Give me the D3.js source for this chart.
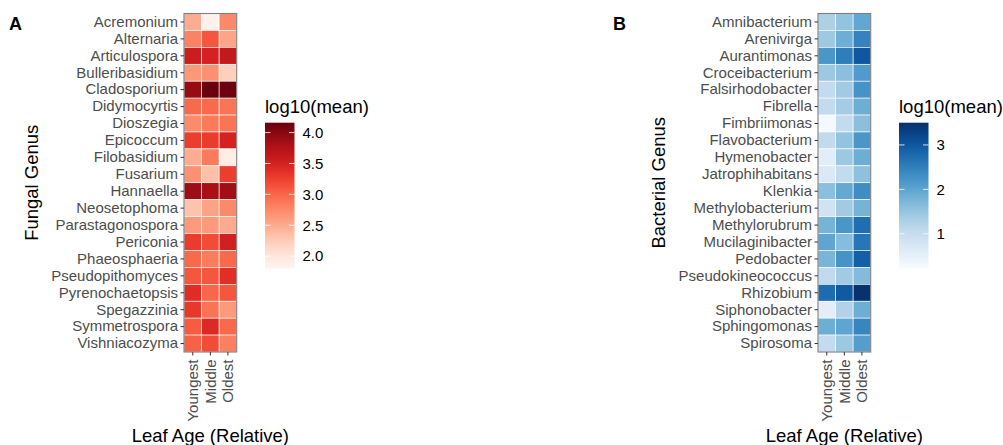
<!DOCTYPE html>
<html>
<head>
<meta charset="utf-8">
<script src="https://cdn.jsdelivr.net/npm/d3@7"></script>
<style>
  body { margin: 0; background: #fff; }
  svg { display: block; font-family: "Liberation Sans", Arial, Helvetica, sans-serif; }
</style>
</head>
<body>
<div id="chart"></div>
<script>
// Leaf age categories (x axis)
const ages = ["Youngest", "Middle", "Oldest"];

// Panel A: fungal genera and log10(mean) per age [Youngest, Middle, Oldest]
const fungalGenera = [
  "Acremonium", "Alternaria", "Articulospora", "Bulleribasidium", "Cladosporium",
  "Didymocyrtis", "Dioszegia", "Epicoccum", "Filobasidium", "Fusarium",
  "Hannaella", "Neosetophoma", "Parastagonospora", "Periconia", "Phaeosphaeria",
  "Pseudopithomyces", "Pyrenochaetopsis", "Spegazzinia", "Symmetrospora", "Vishniacozyma"
];
const fungalValues = [
  [2.50, 1.85, 2.75], [2.80, 3.10, 2.55], [3.57, 3.50, 3.62], [2.65, 2.70, 2.22],
  [3.92, 4.15, 4.13], [2.98, 2.97, 2.90], [2.74, 2.86, 2.90], [3.27, 3.29, 3.50],
  [2.50, 2.86, 1.90], [2.70, 2.34, 3.27], [3.88, 3.82, 3.86], [2.32, 2.56, 2.75],
  [2.63, 2.63, 2.51], [3.29, 3.17, 3.53], [2.98, 2.84, 2.98], [3.10, 3.10, 3.38],
  [3.40, 3.00, 3.10], [3.31, 2.91, 2.63], [3.07, 3.43, 2.98], [3.03, 3.17, 2.82]
];
const fungalLimits = [1.80, 4.16];
const fungalTicks = [2.0, 2.5, 3.0, 3.5, 4.0];

// Panel B: bacterial genera and log10(mean) per age
const bacterialGenera = [
  "Amnibacterium", "Arenivirga", "Aurantimonas", "Croceibacterium", "Falsirhodobacter",
  "Fibrella", "Fimbriimonas", "Flavobacterium", "Hymenobacter", "Jatrophihabitans",
  "Klenkia", "Methylobacterium", "Methylorubrum", "Mucilaginibacter", "Pedobacter",
  "Pseudokineococcus", "Rhizobium", "Siphonobacter", "Sphingomonas", "Spirosoma"
];
const bacterialValues = [
  [1.30, 1.53, 1.96], [1.43, 1.86, 2.45], [2.20, 2.52, 3.00], [1.45, 1.60, 2.13],
  [1.04, 1.40, 2.25], [1.04, 1.37, 1.86], [0.28, 1.04, 1.60], [1.07, 1.53, 2.20],
  [0.58, 1.45, 1.86], [0.68, 1.04, 1.57], [1.60, 1.93, 2.32], [0.85, 1.40, 1.79],
  [1.79, 2.20, 2.72], [1.99, 1.63, 2.61], [1.76, 2.25, 2.90], [1.07, 1.40, 1.66],
  [2.74, 2.98, 3.48], [0.55, 1.24, 1.86], [1.86, 1.99, 2.42], [1.04, 1.45, 2.09]
];
const bacterialLimits = [0.22, 3.50];
const bacterialTicks = [1, 2, 3];

const width = 1003, height = 445;
const svg = d3.select("#chart").append("svg").attr("width", width).attr("height", height);

const defs = svg.append("defs");

function drawPanel(opts) {
  const { letter, letterX, left, genera, values, limits, ticks, interp, yTitle, yTitleX, legendX, gradId, tickFmt } = opts;
  const top = 13.5, bottom = 352, pw = 52.7;

  const x = d3.scaleBand().domain(ages).range([left, left + pw]);
  const y = d3.scaleBand().domain(genera).range([top, bottom]);
  const color = d3.scaleSequential(interp).domain(limits);

  const g = svg.append("g");

  // tiles
  const cells = [];
  genera.forEach((gn, i) => ages.forEach((a, j) => cells.push({ genus: gn, age: a, v: values[i][j] })));
  g.selectAll("rect.tile").data(cells).join("rect")
    .attr("class", "tile")
    .attr("x", d => x(d.age)).attr("y", d => y(d.genus))
    .attr("width", x.bandwidth()).attr("height", y.bandwidth())
    .attr("fill", d => color(d.v))
    .attr("stroke", "#fff").attr("stroke-width", 0.6);

  // panel border
  g.append("rect").attr("x", left).attr("y", top).attr("width", pw).attr("height", bottom - top)
    .attr("fill", "none").attr("stroke", "#7f7f7f").attr("stroke-width", 1.1);

  // y axis
  g.append("g").attr("transform", `translate(${left},0)`)
    .call(d3.axisLeft(y).tickSize(3.5).tickPadding(2.5))
    .call(a => a.select(".domain").remove())
    .call(a => a.selectAll("line").attr("stroke", "#333").attr("stroke-width", 1))
    .call(a => a.selectAll("text").attr("fill", "#4d4d4d").style("font-size", "15px"));

  // x axis
  g.append("g").attr("transform", `translate(0,${bottom})`)
    .call(d3.axisBottom(x).tickSize(3.5).tickPadding(2.5))
    .call(a => a.select(".domain").remove())
    .call(a => a.selectAll("line").attr("stroke", "#333").attr("stroke-width", 1))
    .call(a => a.selectAll("text")
      .attr("fill", "#4d4d4d").style("font-size", "15px")
      .attr("text-anchor", "end").attr("dy", "0.35em")
      .attr("transform", "translate(0,7.5) rotate(-90)").attr("x", 0).attr("y", 0));

  // axis titles
  g.append("text").attr("x", left + pw / 2).attr("y", 441.5).attr("text-anchor", "middle")
    .style("font-size", "18.5px").attr("fill", "#000").text("Leaf Age (Relative)");
  g.append("text").attr("transform", `translate(${yTitleX},${(top + bottom) / 2}) rotate(-90)`)
    .attr("text-anchor", "middle").style("font-size", "18.5px").attr("fill", "#000").text(yTitle);

  // panel letter
  g.append("text").attr("x", letterX).attr("y", 29.5).style("font-size", "18px")
    .attr("font-weight", "bold").attr("fill", "#000").text(letter);

  // legend
  const lTop = 122.7, lBottom = 268.5, lw = 29.5;
  const ly = d3.scaleLinear().domain(limits).range([lBottom, lTop]);
  const grad = defs.append("linearGradient").attr("id", gradId)
    .attr("x1", 0).attr("y1", 1).attr("x2", 0).attr("y2", 0);
  d3.range(0, 1.0001, 0.05).forEach(t => {
    grad.append("stop").attr("offset", t)
      .attr("stop-color", color(limits[0] + t * (limits[1] - limits[0])));
  });
  g.append("text").attr("x", legendX).attr("y", 112.5).style("font-size", "18.5px")
    .attr("fill", "#000").text("log10(mean)");
  g.append("rect").attr("x", legendX).attr("y", lTop).attr("width", lw).attr("height", lBottom - lTop)
    .attr("fill", `url(#${gradId})`);
  const lt = g.append("g");
  lt.selectAll("line.l").data(ticks).join("line").attr("class", "l")
    .attr("x1", legendX).attr("x2", legendX + 5.5).attr("y1", d => ly(d)).attr("y2", d => ly(d))
    .attr("stroke", "#fff").attr("stroke-width", 0.8);
  lt.selectAll("line.r").data(ticks).join("line").attr("class", "r")
    .attr("x1", legendX + lw - 5.5).attr("x2", legendX + lw).attr("y1", d => ly(d)).attr("y2", d => ly(d))
    .attr("stroke", "#fff").attr("stroke-width", 0.8);
  lt.selectAll("text").data(ticks).join("text")
    .attr("x", legendX + lw + 8).attr("y", d => ly(d)).attr("dy", "0.35em")
    .style("font-size", "15px").attr("fill", "#000").text(d => d3.format(tickFmt)(d));
}

drawPanel({
  letter: "A", letterX: 9, left: 184, genera: fungalGenera, values: fungalValues,
  limits: fungalLimits, ticks: fungalTicks, interp: d3.interpolateReds,
  yTitle: "Fungal Genus", yTitleX: 38, legendX: 265, gradId: "gradA", tickFmt: ".1f"
});
drawPanel({
  letter: "B", letterX: 613, left: 818, genera: bacterialGenera, values: bacterialValues,
  limits: bacterialLimits, ticks: bacterialTicks, interp: d3.interpolateBlues,
  yTitle: "Bacterial Genus", yTitleX: 665, legendX: 899, gradId: "gradB", tickFmt: "d"
});
</script>
</body>
</html>
